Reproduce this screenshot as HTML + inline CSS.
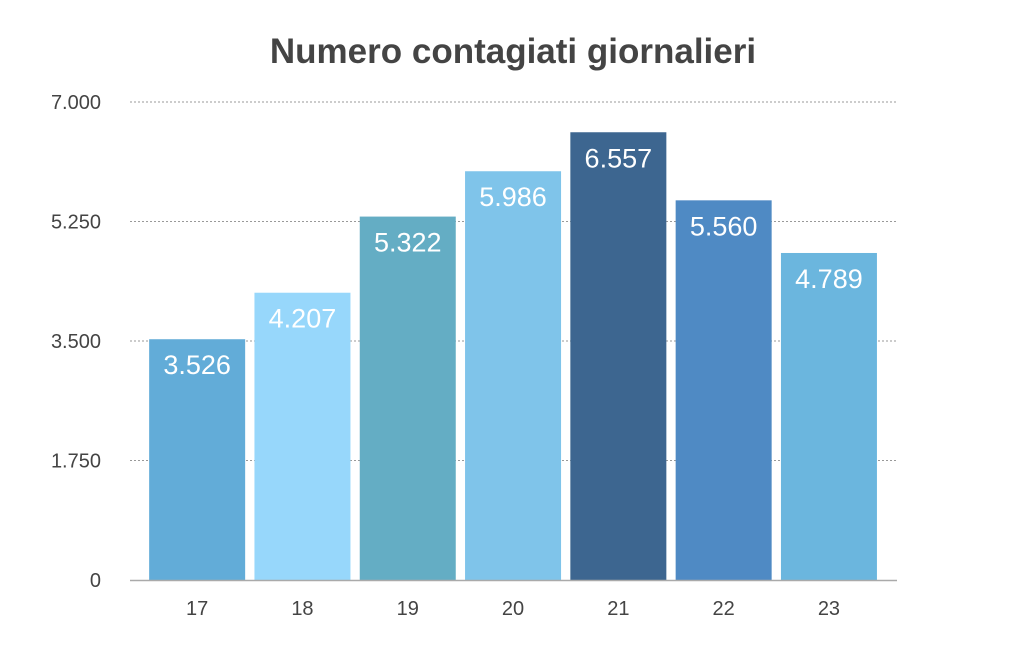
<!DOCTYPE html>
<html><head><meta charset="utf-8"><style>
body{margin:0;background:#fff;}
svg{display:block;font-family:"Liberation Sans",sans-serif;}
</style></head><body>
<svg width="1018" height="646">
<text x="513" y="63" text-anchor="middle" font-size="35" font-weight="bold" fill="#444">Numero contagiati giornalieri</text>
<g id="grid"></g><g id="bars"></g><g id="xl"></g>
<line x1="130" x2="897" y1="580.5" y2="580.5" stroke="#aaa" stroke-width="1.5"/>
</svg>
<script>
const categories=["17","18","19","20","21","22","23"];
const values=[3526,4207,5322,5986,6557,5560,4789];
const labels=["3.526","4.207","5.322","5.986","6.557","5.560","4.789"];
const ticks=[0,1750,3500,5250,7000];
const tickLabels=["0","1.750","3.500","5.250","7.000"];
const colors=["#62acd8","#97d7fb","#64adc4","#7fc4ea","#3d6690","#4f8ac4","#6bb6de"];
const NS="http://www.w3.org/2000/svg";
const y=v=>580-v*478/7000;
const band=105.3,x0=144.5,bw=96;
const x=i=>x0+i*band+(band-bw)/2;
function mk(t,a,p){const e=document.createElementNS(NS,t);for(const k in a)e.setAttribute(k,a[k]);p.appendChild(e);return e;}
const g=document.getElementById('grid'),b=document.getElementById('bars'),xl=document.getElementById('xl');
ticks.forEach((t,i)=>{
 if(t>0){const l=mk('line',{x1:130,x2:897,y1:y(t),y2:y(t),stroke:'#999','stroke-dasharray':'2,2'},g);
 
 }
 const tx=mk('text',{x:101,y:y(t)+7,'text-anchor':'end','font-size':20,fill:'#444'},g);tx.textContent=tickLabels[i];
 
 
});
values.forEach((v,i)=>{
 const r=mk('rect',{x:x(i),y:y(v),width:bw,height:580-y(v),fill:colors[i]},b);
 
 
 const t=mk('text',{x:x(i)+bw/2,y:y(v)+35,'text-anchor':'middle','font-size':27,fill:'#fff'},b);t.textContent=labels[i];
 
 
 const c=mk('text',{x:x(i)+bw/2,y:615,'text-anchor':'middle','font-size':20,fill:'#444'},xl);c.textContent=categories[i];
 
 
});
</script>
</body></html>
